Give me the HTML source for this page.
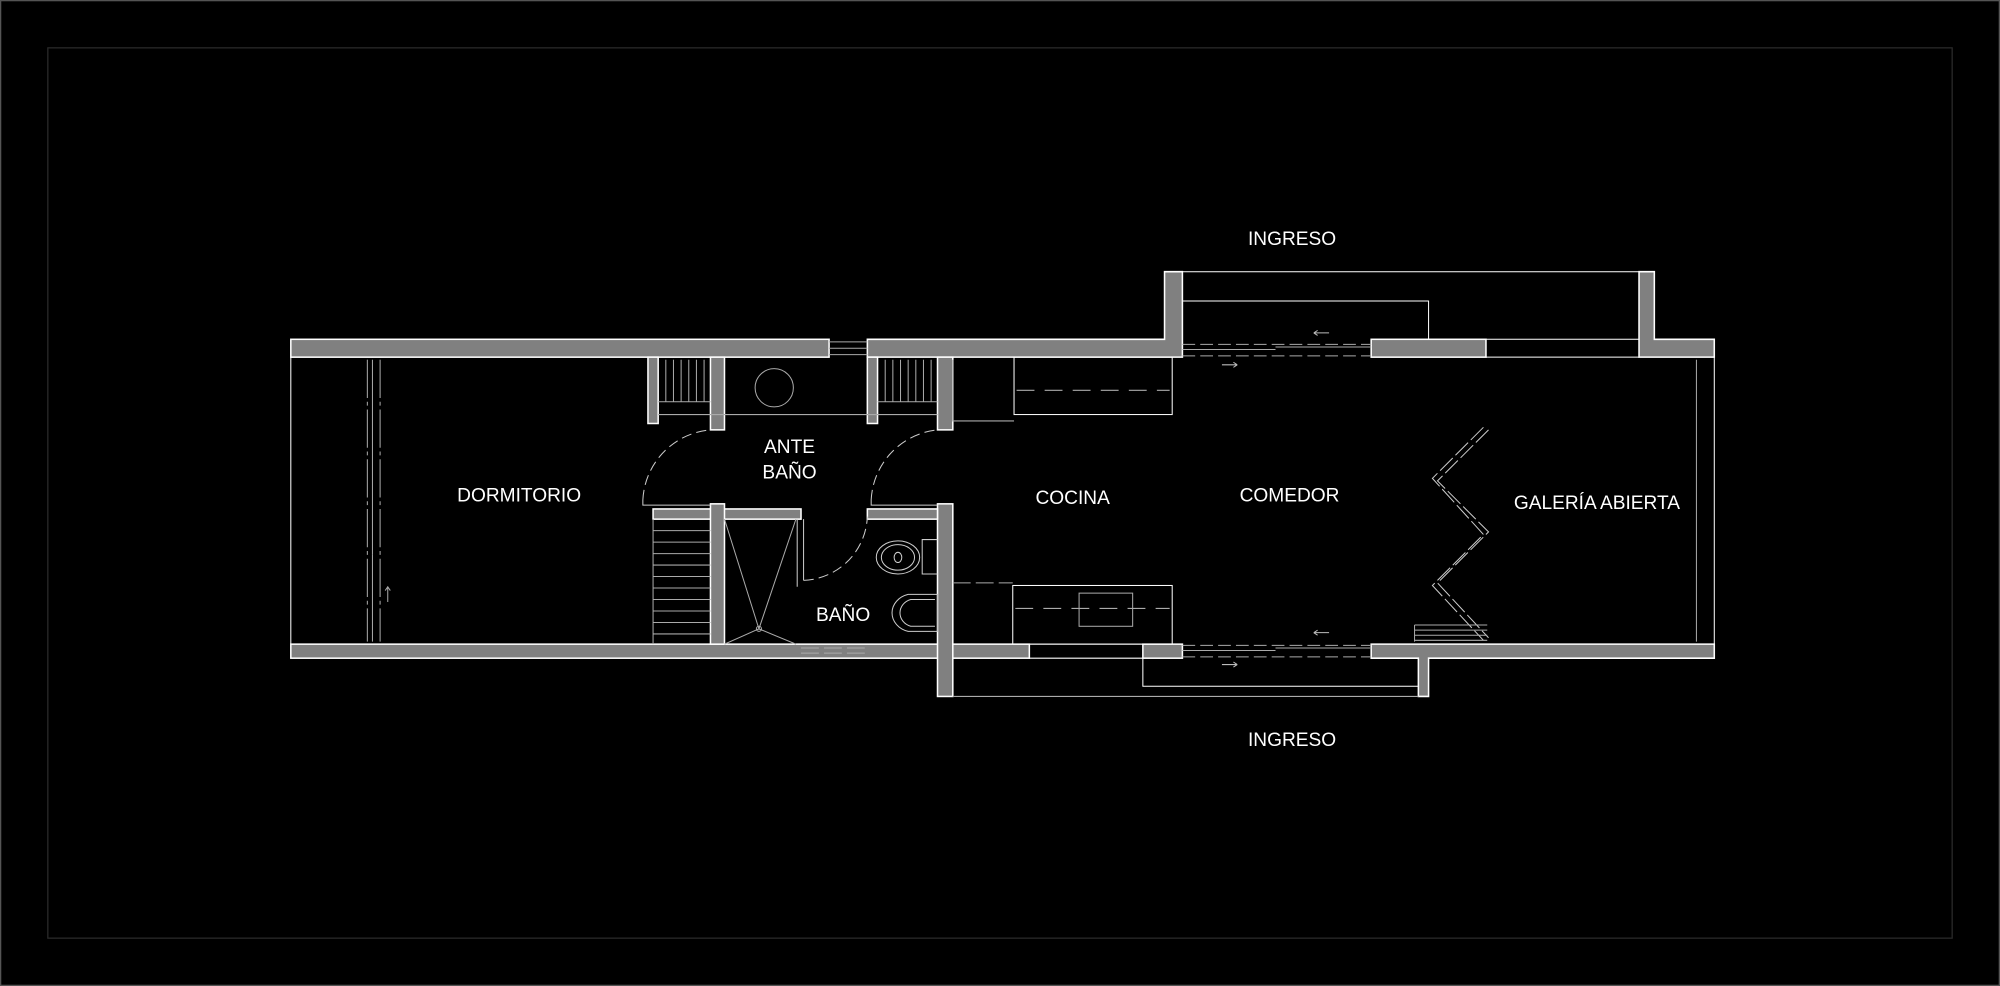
<!DOCTYPE html>
<html><head><meta charset="utf-8"><style>
html,body{margin:0;padding:0;background:#000;width:2000px;height:986px;overflow:hidden}
svg{display:block}
text{font-family:"Liberation Sans",sans-serif;fill:#fff;font-size:15px;text-anchor:middle}
</style></head><body>
<svg width="2000" height="986" viewBox="0 0 1568 773" xmlns="http://www.w3.org/2000/svg">
<rect x="0.5" y="0.5" width="1567" height="772" fill="none" stroke="#555" stroke-width="1"/>
<rect x="37.5" y="37.5" width="1493" height="698" fill="none" stroke="#2a2a2a" stroke-width="1"/>
<g fill="#808080" stroke="#fff" stroke-width="1.2">
<rect x="228" y="266" width="422" height="14"/>
<path d="M680 266 H913 V213 H927 V280 H680 Z"/>
<rect x="1075" y="266" width="90" height="14"/>
<path d="M1285 213 H1297 V266 H1344 V280 H1285 Z"/>
<rect x="228" y="505" width="579" height="11"/>
<rect x="896" y="505" width="31" height="11"/>
<path d="M1075 505 H1344 V516 H1120 V546 H1112 V516 H1075 Z"/>
<rect x="735" y="395" width="12" height="151"/>
<rect x="508" y="280" width="8" height="52"/>
<rect x="557" y="280" width="11" height="57"/>
<rect x="680" y="280" width="8" height="52"/>
<rect x="735" y="280" width="12" height="57"/>
<rect x="512" y="399" width="116" height="8"/>
<rect x="680" y="399" width="55" height="8"/>
<rect x="557" y="395" width="11" height="110"/>
</g>
<g fill="none" stroke="#fff" stroke-width="0.8">
<line x1="228" y1="280" x2="228" y2="505"/>
<line x1="1344" y1="280" x2="1344" y2="505"/>
<line x1="1330" y1="282" x2="1330" y2="503" stroke="#aaa"/>
<line x1="913" y1="213" x2="1297" y2="213"/>
<path d="M927 236 H1120 V266"/>
<line x1="1165" y1="266" x2="1285" y2="266"/>
<line x1="1165" y1="280" x2="1285" y2="280"/>
<path d="M896 516 V538 H1112"/>
<line x1="747" y1="546" x2="1112" y2="546" stroke="#aaa"/>
<line x1="807" y1="505" x2="896" y2="505"/>
<line x1="807" y1="516" x2="896" y2="516"/>
<line x1="650" y1="268" x2="680" y2="268" stroke="#aaa"/><line x1="650" y1="273" x2="680" y2="273" stroke="#aaa"/><line x1="650" y1="278" x2="680" y2="278" stroke="#aaa"/>
<g stroke="#aaa" stroke-dasharray="10 4">
<line x1="927" y1="270" x2="1075" y2="270"/><line x1="927" y1="279" x2="1075" y2="279"/>
<line x1="927" y1="506" x2="1075" y2="506"/><line x1="927" y1="515" x2="1075" y2="515"/>
</g>
<path d="M927 274 H1000 M1000 272 H1075 M927 510 H1000 M1000 508 H1075" stroke="#aaa"/>
<path d="M1030 261 h12 M1030 261 l3 -2 M1030 261 l3 2 M958 286 h12 M970 286 l-3 -2 M970 286 l-3 2 M1030 496 h12 M1030 496 l3 -2 M1030 496 l3 2 M958 521 h12 M970 521 l-3 -2 M970 521 l-3 2" stroke="#bbb"/>
<g stroke="#aaa"><line x1="288" y1="282" x2="288" y2="503" stroke-dasharray="30 3 3 3"/><line x1="298" y1="282" x2="298" y2="503" stroke-dasharray="30 3 3 3"/><line x1="292" y1="282" x2="292" y2="435"/><path d="M292 435 V503"/><path d="M304 472 V460 M302 463 l2 -3 l2 3"/></g>
<g stroke="#aaa">
<path d="M516 315 H557 M688 315 H735 M516 325 H735"/>
<path d="M522 282V315M528 282V315M534 282V315M540 282V315M546 282V315M552 282V315M694 282V315M700 282V315M706 282V315M712 282V315M718 282V315M724 282V315M730 282V315"/>
<path d="M512 407V505M512 416H557M512 425H557M512 434H557M512 443H557M512 452H557M512 461H557M512 470H557M512 479H557M512 488H557M512 497H557"/>
<path d="M747 282V330H795"/>
</g>
<circle cx="607" cy="304" r="15" stroke="#aaa"/>
<g stroke="#ccc" stroke-dasharray="8 4">
<path d="M504 392 A58 58 0 0 1 557 337"/>
<path d="M683 392 A58 58 0 0 1 735 337"/>
<path d="M630 455 A52 52 0 0 0 680 405"/>
</g>
<path d="M504 392 V396 H557 M683 392 V396 H735 M630 407 V455 M625 407 V460" stroke="#ccc"/>
<path d="M568 407 L595 493 L624 407 M568 505 L595 493 L624 505" stroke="#aaa"/>
<circle cx="595" cy="493" r="2" stroke="#aaa"/>
<g stroke="#ccc"><path d="M735 423 H723 V450 H735"/><ellipse cx="704" cy="437" rx="17" ry="13"/><ellipse cx="704" cy="437" rx="13" ry="10"/><ellipse cx="704" cy="437" rx="3" ry="4"/>
<path d="M735 466 V495 H712 A17 15 0 0 1 712 466 Z"/><path d="M733 470 H714 A12 11 0 0 0 714 491 H733"/></g>
<path d="M628 512 H680 M628 508 H680" stroke="#aaa" stroke-dasharray="14 4"/>
<rect x="795" y="280" width="124" height="45"/>
<line x1="797" y1="306" x2="917" y2="306" stroke-dasharray="14 8" stroke="#aaa"/>
<rect x="794" y="459" width="125" height="46"/>
<line x1="796" y1="477" x2="917" y2="477" stroke-dasharray="14 8" stroke="#aaa"/>
<rect x="846" y="465" width="42" height="26" stroke="#aaa"/>
<path d="M747 457 H794" stroke="#aaa" stroke-dasharray="14 4"/>
<g stroke="#ccc" stroke-dasharray="14 3">
<path d="M1167 337 L1127 377 L1167 417 L1127 457 L1167 500"/>
<path d="M1163 335 L1123 375 L1163 419 L1123 459 L1163 502"/>
</g>
<path d="M1109 490 H1166 M1109 494 H1166 M1109 498 H1166 M1109 502 H1166 M1109 490 V503" stroke="#aaa"/>
</g>
<text x="1013" y="192">INGRESO</text>
<text x="1013" y="585">INGRESO</text>
<text x="407" y="393">DORMITORIO</text>
<text x="619" y="355">ANTE</text>
<text x="619" y="375">BAÑO</text>
<text x="841" y="395">COCINA</text>
<text x="1011" y="393">COMEDOR</text>
<text x="1252" y="399">GALERÍA ABIERTA</text>
<text x="661" y="487">BAÑO</text>
</svg>
</body></html>
